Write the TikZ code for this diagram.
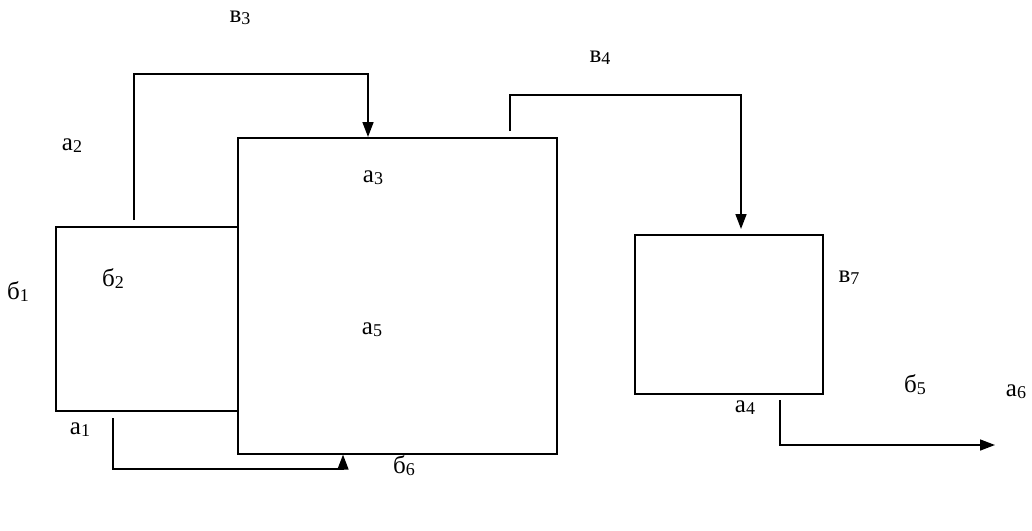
\documentclass[tikz,border=0pt]{standalone}
\usepackage{fontspec}
\setmainfont{Liberation Serif}
\usetikzlibrary{arrows.meta,calc}
\newcommand{\lb}[2]{#1\raisebox{-2pt}{\fontsize{18}{18}\selectfont #2}}
\begin{document}
\begin{tikzpicture}[x=1pt,y=-1pt,
  box/.style={draw, line width=1.6pt, inner sep=0pt, anchor=north west},
  arr/.style={line width=1.6pt, -{Triangle[length=15pt,width=11pt]}},
  lab/.style={font=\fontsize{25}{25}\selectfont, inner sep=0pt}]
\useasboundingbox (0,0) rectangle (1032,530);
% boxes
\node[box, minimum width=319pt, minimum height=316pt] (B) at (237,137) {};
\node[box, minimum width=182pt, minimum height=184pt] (L) at (55,226) {};
\node[box, minimum width=188pt, minimum height=159pt] (R) at (634,234) {};
% connectors
\coordinate (s1) at (134,220);
\draw[arr] (s1) |- (368,74) -- (368,74 |- B.north);
\coordinate (s2) at (510,131);
\draw[arr] (s2) |- (741,95) -- (741,229);
\coordinate (s3) at (113,418);
\draw[arr] (s3) |- (343,469) -- (343,469 |- B.south);
\coordinate (s4) at (780,400);
\coordinate (e4) at (995,445);
\draw[arr] (s4) |- (e4);
% labels
\node[lab] (v3) at (240,18) {\lb{в}{3}};
\node[lab] (v4) at (600,58) {\lb{в}{4}};
\node[lab] (a2) at (72,146) {\lb{а}{2}};
\node[lab] (a3) at (373,178) {\lb{а}{3}};
\node[lab] (b1) at (18,292) {\lb{б}{1}};
\node[lab] (b2) at (113,279) {\lb{б}{2}};
\node[lab] (a5) at (372,330) {\lb{а}{5}};
\node[lab] (v7) at (849,278) {\lb{в}{7}};
\node[lab] (b5) at (915,385) {\lb{б}{5}};
\node[lab] (a6) at (1016,392) {\lb{а}{6}};
\node[lab] (a4) at (745,408) {\lb{а}{4}};
\node[lab] (a1) at (80,430) {\lb{а}{1}};
\node[lab] (b6) at (404,466) {\lb{б}{6}};
\end{tikzpicture}
\end{document}
